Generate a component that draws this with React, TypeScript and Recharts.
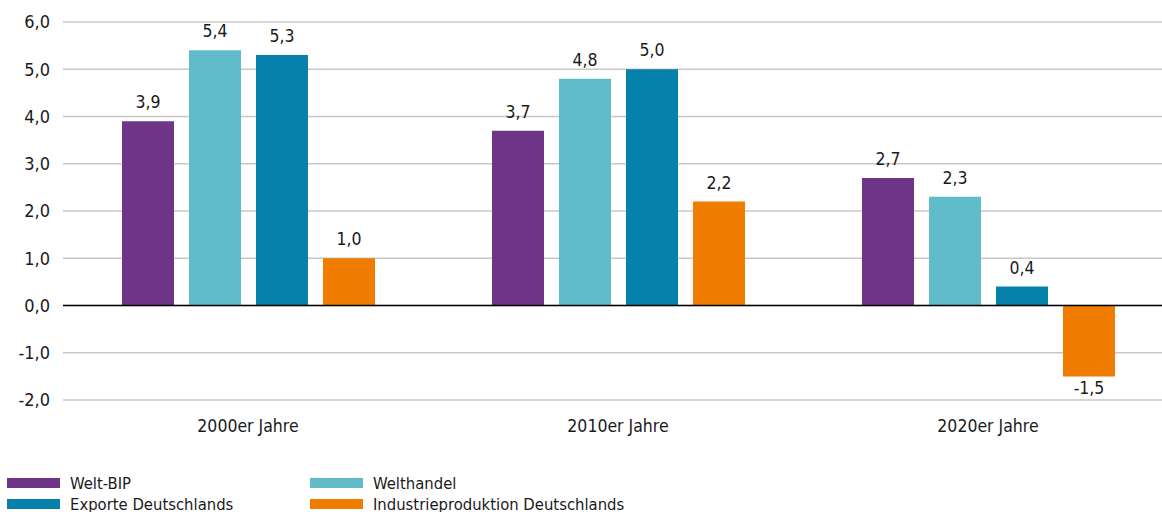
import { BarChart, Bar, XAxis, YAxis, CartesianGrid, ReferenceLine, LabelList, Legend } from "recharts"

const decades = ["2000er Jahre", "2010er Jahre", "2020er Jahre"]
const weltBip = [3.9, 3.7, 2.7]
const welthandel = [5.4, 4.8, 2.3]
const exporte = [5.3, 5.0, 0.4]
const industrie = [1.0, 2.2, -1.5]
const yTicks = [-2, -1, 0, 1, 2, 3, 4, 5, 6]

const series = [
  { key: "weltBip", name: "Welt-BIP", color: "#6e3586" },
  { key: "welthandel", name: "Welthandel", color: "#61bcca" },
  { key: "exporte", name: "Exporte Deutschlands", color: "#0581ab" },
  { key: "industrie", name: "Industrieproduktion Deutschlands", color: "#f07c00" },
]

const data = decades.map((d, i) => ({
  decade: d,
  weltBip: weltBip[i],
  welthandel: welthandel[i],
  exporte: exporte[i],
  industrie: industrie[i],
}))

const FONT = '"Liberation Sans Narrow", "Arial Narrow", "DejaVu Sans Condensed", sans-serif'
const fmt = (v: any) => Number(v).toFixed(1).replace(".", ",")

// value labels: above positive bars, below negative ones
function ValueLabel(props: any) {
  const { x, y, width, height, value } = props
  const top = Math.min(y, y + height)
  const bottom = Math.max(y, y + height)
  const ty = value >= 0 ? top - 13 : bottom + 18
  return (
    <text x={x + width / 2} y={ty} textAnchor="middle" fontFamily={FONT} fontSize={17.5} fill="#1a1a1a">
      {fmt(value)}
    </text>
  )
}

function LegendBox() {
  return (
    <div
      style={{
        display: "grid",
        gridTemplateColumns: "303px 360px",
        height: 42,
        fontFamily: FONT,
        fontSize: 16.5,
        color: "#1a1a1a",
      }}
    >
      {series.map((s) => (
        <div key={s.key} style={{ display: "flex", alignItems: "center", height: 20 }}>
          <span style={{ display: "inline-block", width: 53, height: 10, background: s.color, marginRight: 10 }} />
          <span>{s.name}</span>
        </div>
      ))}
    </div>
  )
}

export default function App() {
  return (
    <div style={{ position: "absolute", left: 0, top: 0, width: 1162, height: 512, overflow: "hidden", background: "#fff" }}>
      <BarChart
        width={1173}
        height={512}
        data={data}
        margin={{ top: 22, right: 0, bottom: 40, left: 0 }}
        barGap={15}
        barSize={52}
      >
        <CartesianGrid vertical={false} stroke="#c8c8c8" strokeWidth={1.5} />
        <XAxis
          dataKey="decade"
          axisLine={false}
          tickLine={false}
          height={30}
          tickMargin={14}
          tick={{ fontFamily: FONT, fontSize: 17.5, fill: "#1a1a1a" }}
        />
        <YAxis
          domain={[-2, 6]}
          ticks={yTicks}
          interval={0}
          width={63}
          axisLine={false}
          tickLine={false}
          tickMargin={7}
          tickFormatter={fmt}
          tick={{ fontFamily: FONT, fontSize: 18, fill: "#1a1a1a" }}
        />
        <ReferenceLine y={0} stroke="#000" strokeWidth={1.5} />
        <Legend content={() => <LegendBox />} wrapperStyle={{ left: 7, top: 473, width: 700 }} />
        {series.map((s) => (
          <Bar key={s.key} dataKey={s.key} name={s.name} fill={s.color} isAnimationActive={false}>
            <LabelList dataKey={s.key} content={<ValueLabel />} />
          </Bar>
        ))}
      </BarChart>
    </div>
  )
}
